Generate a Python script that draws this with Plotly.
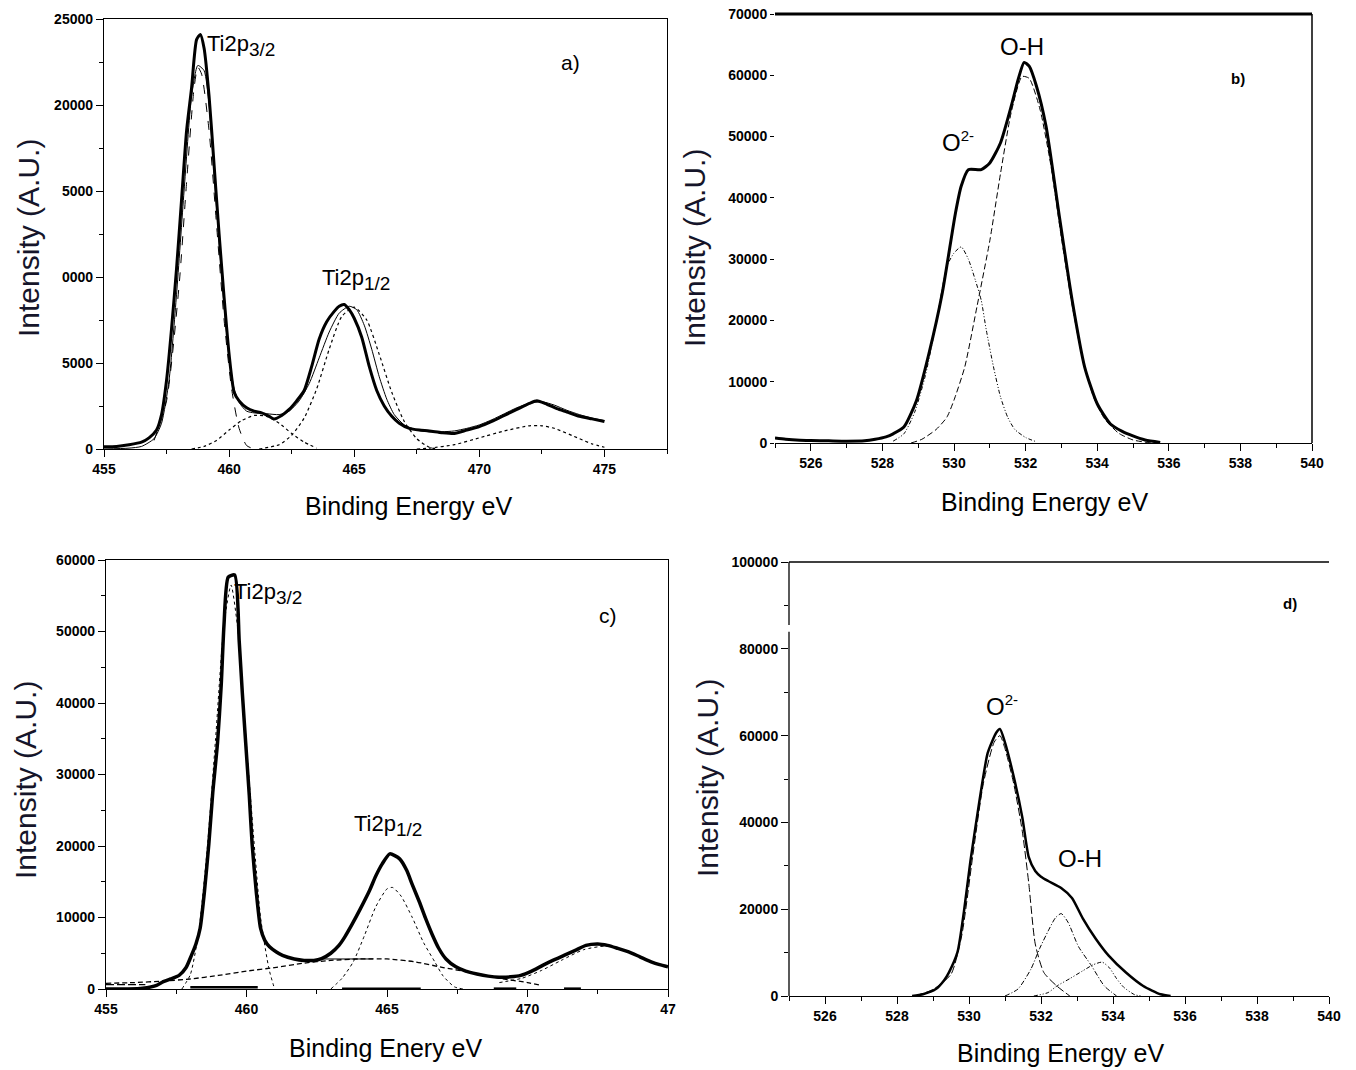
import plotly.graph_objects as go

# ---------------- Panel a) Ti2p ----------------
a_exp_x = [455.0, 455.5, 456.0, 456.5, 456.8, 457.1, 457.3, 457.5, 457.7, 457.9, 458.1, 458.3, 458.5, 458.7, 458.85,
           459.0, 459.2, 459.4, 459.6, 459.8, 460.0, 460.2, 460.4, 460.7, 461.0, 461.3, 461.6, 461.8, 462.1, 462.4,
           462.7, 463.0, 463.3, 463.6, 463.9, 464.2, 464.4, 464.6, 464.8, 465.0, 465.3, 465.6, 465.9, 466.2, 466.5,
           466.8, 467.2, 467.6, 468.0, 468.5, 469.0, 469.5, 470.0, 470.5, 471.0, 471.5, 472.0, 472.3, 472.7, 473.1,
           473.5, 474.0, 474.5, 475.0]
a_exp_y = [130, 150, 250, 400, 650, 1100, 2000, 4000, 7000, 10500, 14500, 18500, 21000, 23800, 24100,
           23300, 20500, 16500, 12500, 8800, 5500, 3300, 2800, 2400, 2200, 2100, 1900, 1750, 1950, 2300,
           2800, 3400, 4800, 6400, 7400, 8000, 8300, 8400, 8100, 7600, 6500, 4800, 3400, 2500, 1900,
           1500, 1200, 1100, 1050, 950, 900, 1100, 1300, 1600, 1950, 2300, 2650, 2800, 2600, 2350,
           2150, 1900, 1750, 1600]
a_fit_x = [455.0, 456.0, 456.5, 457.0, 457.3, 457.6, 457.9, 458.2, 458.5, 458.75, 459.0, 459.2, 459.4, 459.6, 459.8,
           460.0, 460.2, 460.4, 460.7, 461.0, 461.5, 462.0, 462.4, 462.8, 463.2, 463.6, 464.0, 464.4, 464.8, 465.1,
           465.4, 465.7, 466.0, 466.3, 466.6, 467.0, 467.5, 468.0, 468.5, 469.0, 469.5, 470.0, 470.5, 471.0, 471.5,
           472.0, 472.5, 473.0, 473.5, 474.0, 474.5, 475.0]
a_fit_y = [0, 50, 150, 600, 1500, 4000, 9000, 15000, 20500, 22300, 22000, 20000, 16000, 12000, 8300,
           5300, 3500, 2700, 2200, 2100, 2050, 2000, 2200, 2800, 3800, 5300, 6800, 7900, 8300, 8100,
           7200, 5800, 4200, 2900, 2000, 1400, 1100, 1000, 1000, 1050, 1200, 1400, 1700, 2050, 2400,
           2650, 2750, 2550, 2250, 2000, 1800, 1650]
a_p32_x = [457.0, 457.5, 458.0, 458.3, 458.6, 458.75, 458.9, 459.2, 459.5, 459.8, 460.1, 460.4, 460.7, 461.0]
a_p32_y = [500, 2800, 9500, 15500, 21000, 22200, 21800, 18500, 13000, 7500, 3500, 1200, 200, 0]
a_p2_x = [458.5, 459.0, 459.5, 460.0, 460.5, 461.0, 461.5, 462.0, 462.5, 463.0, 463.5]
a_p2_y = [0, 150, 500, 1100, 1650, 1950, 1900, 1500, 900, 400, 50]
a_p12_x = [461.2, 462.0, 462.5, 463.0, 463.5, 464.0, 464.5, 465.0, 465.5, 466.0, 466.5, 467.0, 467.5, 468.0, 468.3]
a_p12_y = [0, 250, 800, 1800, 3500, 5800, 7700, 8250, 7500, 5500, 3300, 1600, 600, 100, 0]
a_sat_x = [467.5, 468.0, 469.0, 470.0, 471.0, 472.0, 472.5, 473.0, 474.0, 474.5, 475.0]
a_sat_y = [0, 50, 250, 650, 1050, 1350, 1350, 1200, 600, 300, 100]
a_xticks = [455, 460, 465, 470, 475]
a_xlabels = ["455", "460", "465", "470", "475"]
a_yticks = [0, 5000, 10000, 15000, 20000, 25000]
a_ylabels = ["0", "5000", "0000", "5000", "20000", "25000"]

# ---------------- Panel b) O1s ----------------
b_exp_x = [525.0, 525.3, 525.7, 526.0, 526.5, 527.0, 527.5, 527.8, 528.1, 528.3, 528.6, 528.95, 529.3, 529.67,
           530.04, 530.2, 530.4, 530.76, 531.0, 531.3, 531.6, 531.8, 531.96, 532.1, 532.3, 532.57, 532.93, 533.3,
           533.65, 534.0, 534.37, 534.7, 534.98, 535.34, 535.76]
b_exp_y = [800, 600, 450, 400, 350, 300, 350, 600, 1000, 1500, 2600, 6900, 14600, 24400,
           37500, 41900, 44600, 44600, 45700, 49000, 55000, 59500, 62100, 61500, 58300, 51700, 37500, 23300,
           12400, 6400, 3100, 1900, 1200, 500, 100]
b_o2_x = [528.3, 528.6, 528.9, 529.2, 529.5, 529.8, 530.0, 530.2, 530.4, 530.6, 530.76, 530.9, 531.1, 531.3,
          531.5, 531.7, 532.0, 532.3]
b_o2_y = [300, 1500, 5000, 11000, 19500, 28800, 31000, 32000, 30000, 26500, 23300, 18500, 12500, 7500,
          4200, 2200, 900, 200]
b_oh_x = [528.8, 529.1, 529.5, 529.8, 530.0, 530.3, 530.65, 531.0, 531.3, 531.6, 531.9, 532.1, 532.4, 532.7,
          533.0, 533.3, 533.6, 533.9, 534.2, 534.6, 535.0, 535.5]
b_oh_y = [0, 600, 2200, 4200, 7000, 12400, 22500, 33000, 44000, 54000, 59800, 59500, 54500, 45500,
          33500, 22500, 13500, 7500, 4000, 1600, 500, 0]
b_xticks = [526, 528, 530, 532, 534, 536, 538, 540]
b_yticks = [0, 10000, 20000, 30000, 40000, 50000, 60000, 70000]

# ---------------- Panel c) Ti2p ----------------
c_exp_x = [455.0, 455.8, 456.3, 456.8, 457.0, 457.3, 457.6, 457.85, 458.04, 458.2, 458.35, 458.5, 458.66, 458.8,
           458.97, 459.1, 459.2, 459.35, 459.58, 459.74, 459.85, 459.97, 460.1, 460.2, 460.35, 460.5, 460.65,
           460.82, 461.05, 461.28, 461.7, 462.05, 462.4, 462.67, 463.0, 463.29, 463.5, 463.75, 464.05, 464.37,
           464.6, 464.83, 465.1, 465.45, 465.7, 465.9, 466.15, 466.37, 466.6, 466.84, 467.1, 467.45, 467.8,
           468.2, 468.6, 468.99, 469.4, 469.76, 470.15, 470.54, 470.9, 471.3, 471.7, 472.08, 472.5, 472.85,
           473.2, 473.6, 474.0, 474.4, 474.7, 475.0]
c_exp_y = [0, 0, 100, 500, 950, 1400, 1900, 3000, 4700, 6300, 8500, 13500, 20300, 27500,
           34500, 42500, 51000, 57600, 57900, 48700, 41500, 34500, 27000, 20300, 13500, 8500, 6800,
           5900, 5200, 4700, 4200, 4000, 4000, 4250, 5000, 6100, 7300, 9000, 11200, 13700,
           15800, 17500, 18900, 18200, 16600, 14600, 12200, 9900, 7700, 5700, 4200, 3100, 2500,
           2100, 1800, 1650, 1700, 1900, 2500, 3300, 4000, 4700, 5400, 6100, 6300, 6100,
           5700, 5200, 4500, 3800, 3400, 3100]
c_p32_x = [457.7, 458.0, 458.3, 458.6, 458.9, 459.2, 459.45, 459.7, 460.0, 460.3, 460.5, 460.8, 461.0]
c_p32_y = [0, 2000, 8000, 19500, 35000, 51000, 56500, 50000, 34000, 19000, 10000, 2800, 0]
c_p12_x = [463.0, 463.4, 463.8, 464.2, 464.6, 465.0, 465.2, 465.5, 465.9, 466.3, 466.7, 467.0, 467.4, 467.7]
c_p12_y = [0, 1500, 3800, 7500, 11500, 14000, 14200, 13000, 10000, 6500, 3800, 1800, 300, 0]
c_bg_x = [455.0, 456.0, 457.0, 458.0, 459.0, 460.0, 461.0, 462.0, 463.0, 464.0, 465.0, 466.0, 467.0, 468.0,
          469.0, 470.0, 470.5]
c_bg_y = [800, 900, 1100, 1400, 1900, 2500, 3000, 3600, 4000, 4200, 4200, 3800, 3000, 2300,
          1500, 900, 500]
c_sat_x = [469.0, 469.8, 470.5, 471.2, 472.0, 472.8, 473.5, 474.2, 475.0]
c_sat_y = [900, 1500, 2600, 4000, 5500, 6000, 5300, 4200, 3000]
c_seg_x = [462.7, 464.5]
c_seg_y = [4200, 4200]
c_base_x = [458.0, 460.4, None, 463.4, 466.2, None, 468.8, 469.6, None, 471.3, 471.9]
c_base_y = [250, 250, None, 50, 50, None, 50, 50, None, 50, 50]
c_ldash_x = [455.0, 456.4]
c_ldash_y = [600, 600]
c_xticks = [455, 460, 465, 470, 475]
c_xlabels = ["455", "460", "465", "470", "47"]
c_yticks = [0, 10000, 20000, 30000, 40000, 50000, 60000]

# ---------------- Panel d) O1s ----------------
d_exp_x = [528.42, 528.72, 529.08, 529.3, 529.44, 529.68, 529.86, 530.04, 530.28, 530.52, 530.76, 530.86,
           531.0, 531.24, 531.48, 531.66, 531.84, 532.0, 532.2, 532.56, 532.86, 533.16, 533.52, 533.88,
           534.36, 534.84, 535.32, 535.6]
d_exp_y = [0, 400, 1600, 3500, 5400, 10100, 19500, 31100, 44400, 56000, 60700, 61500,
           58400, 50600, 41200, 32000, 28800, 27500, 26500, 24900, 22600, 17900, 13200, 9300,
           5400, 2300, 400, 0]
d_o2_x = [528.5, 529.0, 529.5, 529.8, 530.1, 530.4, 530.7, 530.86, 531.0, 531.24, 531.48, 531.66, 531.84,
          532.08, 532.44, 532.8]
d_o2_y = [0, 1500, 5000, 14000, 32000, 49000, 58500, 60000, 57000, 49000, 38000, 26000, 12000,
          5400, 2300, 0]
d_oh_x = [531.0, 531.36, 531.72, 531.96, 532.2, 532.4, 532.56, 532.75, 533.04, 533.4, 533.76, 534.1]
d_oh_y = [0, 1600, 6200, 10900, 15000, 18000, 19000, 17000, 11400, 7000, 2300, 0]
d_p3_x = [531.8, 532.2, 532.44, 532.8, 533.16, 533.45, 533.7, 533.9, 534.1, 534.3, 534.6, 534.8]
d_p3_y = [0, 800, 2300, 4000, 5800, 7200, 7800, 6500, 4000, 2000, 300, 0]
d_xticks = [526, 528, 530, 532, 534, 536, 538, 540]
d_yticks = [0, 20000, 40000, 60000, 80000, 100000]

# ---------------- Figure ----------------
W, H = 1356, 1070
OFF = 8  # page body margin of the html page
FONT = "Liberation Sans"
fig = go.Figure()


def line(x, y, ax, width=1.0, dash="solid", smooth=0.6, color="black"):
    fig.add_trace(go.Scatter(x=x, y=y, xaxis="x" + ax, yaxis="y" + ax, mode="lines",
                             line=dict(color=color, width=width, dash=dash, shape="spline", smoothing=smooth),
                             showlegend=False, hoverinfo="skip", connectgaps=False))


# a
line(a_p32_x, a_p32_y, "", 1.0, "dash")
line(a_p2_x, a_p2_y, "", 1.2, "dot")
line(a_p12_x, a_p12_y, "", 1.2, "dot")
line(a_sat_x, a_sat_y, "", 1.2, "dot")
line(a_fit_x, a_fit_y, "", 1.0)
line(a_exp_x, a_exp_y, "", 3.0)
# b
line(b_o2_x, b_o2_y, "2", 1.0, "4px,2px,1px,2px,1px,2px")
line(b_oh_x, b_oh_y, "2", 1.0, "6px,3px")
line(b_exp_x, b_exp_y, "2", 3.0)
# c
line(c_bg_x, c_bg_y, "3", 1.3, "5px,3px")
line(c_ldash_x, c_ldash_y, "3", 1.3, "8px,3px")
line(c_p32_x, c_p32_y, "3", 1.0, "dot")
line(c_p12_x, c_p12_y, "3", 1.0, "dot")
line(c_sat_x, c_sat_y, "3", 1.0, "dot")
line(c_seg_x, c_seg_y, "3", 1.0)
line(c_base_x, c_base_y, "3", 2.5)
line(c_exp_x, c_exp_y, "3", 3.5)
# d
line(d_o2_x, d_o2_y, "4", 1.0, "8px,3px")
line(d_oh_x, d_oh_y, "4", 1.0, "5px,2px,1px,2px")
line(d_p3_x, d_p3_y, "4", 1.0, "4px,2px,1px,2px,1px,2px")
line(d_exp_x, d_exp_y, "4", 2.5)


def px(x):
    return (x - OFF) / W


def py(y):
    return 1 - (y - OFF) / H


tickfont = dict(family=FONT, size=14, color="black", weight="bold")
base_ax = dict(showgrid=False, zeroline=False, ticks="outside", ticklen=7, tickwidth=1.2, tickcolor="black",
               linecolor="black", linewidth=1.3, tickfont=tickfont, layer="above traces", automargin=False,
               ticklabeloverflow="allow")
mt = dict(ticks="outside", ticklen=4, tickcolor="black", tickmode="linear")

fig.update_layout(
    template="none",
    width=W, height=H, margin=dict(l=0, r=0, t=0, b=0, pad=0, autoexpand=False),
    paper_bgcolor="white", plot_bgcolor="white", showlegend=False,
    # panel a
    xaxis=dict(base_ax, domain=[px(104), px(667)], anchor="y", range=[455, 477.5], showline=True, mirror=True,
               tickmode="array", tickvals=a_xticks, ticktext=a_xlabels, minor=dict(mt, tick0=455, dtick=2.5)),
    yaxis=dict(base_ax, domain=[py(449), py(19)], anchor="x", range=[0, 25000], showline=True, mirror=True,
               tickmode="array", tickvals=a_yticks, ticktext=a_ylabels, minor=dict(mt, tick0=0, dtick=2500)),
    # panel b
    xaxis2=dict(base_ax, domain=[px(775), px(1312)], anchor="y2", range=[525, 540], showline=True,
                tickmode="array", tickvals=b_xticks, ticktext=[str(v) for v in b_xticks],
                minor=dict(mt, tick0=525, dtick=1)),
    yaxis2=dict(base_ax, domain=[py(443), py(14)], anchor="x2", range=[0, 70000], showline=False,
                tickmode="array", tickvals=b_yticks, ticktext=[str(v) for v in b_yticks], ticklen=4),
    # panel c
    xaxis3=dict(base_ax, domain=[px(106), px(668)], anchor="y3", range=[455, 475], showline=True, mirror=True,
                tickmode="array", tickvals=c_xticks, ticktext=c_xlabels, minor=dict(mt, tick0=455, dtick=2.5)),
    yaxis3=dict(base_ax, domain=[py(989), py(560)], anchor="x3", range=[0, 60000], showline=True, mirror=True,
                tickmode="array", tickvals=c_yticks, ticktext=[str(v) for v in c_yticks],
                minor=dict(mt, tick0=0, dtick=5000)),
    # panel d
    xaxis4=dict(base_ax, domain=[px(789), px(1329)], anchor="y4", range=[525, 540], showline=True,
                tickmode="array", tickvals=d_xticks, ticktext=[str(v) for v in d_xticks],
                minor=dict(mt, tick0=525, dtick=1)),
    yaxis4=dict(base_ax, domain=[py(996), py(562)], anchor="x4", range=[0, 100000], showline=False,
                tickmode="array", tickvals=d_yticks, ticktext=[str(v) for v in d_yticks],
                minor=dict(mt, tick0=0, dtick=10000)),
)

# frame pieces for panels b and d
shapes = [
    dict(type="line", xref="x2 domain", yref="y2 domain", x0=0, x1=1, y0=1, y1=1, line=dict(color="black", width=3)),
    dict(type="line", xref="x2 domain", yref="y2 domain", x0=1, x1=1, y0=0, y1=1, line=dict(color="black", width=1.5)),
    dict(type="line", xref="x4 domain", yref="y4 domain", x0=0, x1=1, y0=1, y1=1, line=dict(color="black", width=1.5)),
    dict(type="line", xref="x4 domain", yref="y4", x0=0, x1=0, y0=0, y1=83900, line=dict(color="black", width=1.3)),
    dict(type="line", xref="x4 domain", yref="y4", x0=0, x1=0, y0=85500, y1=100000, line=dict(color="black", width=1.3)),
]
fig.update_layout(shapes=shapes)

ann = []


def text(t, x, y, size=21, xanchor="center", angle=0, bold=False, color="black"):
    ann.append(dict(text=t, x=px(x), y=py(y), xref="paper", yref="paper", showarrow=False, xanchor=xanchor,
                    yanchor="middle", textangle=angle,
                    font=dict(family=FONT, size=size, color=color, weight="bold" if bold else "normal")))


ycol = "#15152a"
SUB32 = "Ti2p<sub><span style='font-size:19px'>3/2</span></sub>"
SUB12 = "Ti2p<sub><span style='font-size:19px'>1/2</span></sub>"
SUP2 = "O<sup><span style='font-size:15px'>2-</span></sup>"
# axis titles
text("Binding Energy eV", 408, 506, 25)
text("Intensity (A.U.)", 28, 238, 30, angle=-90, color=ycol)
text("Binding Energy eV", 1044, 502, 25)
text("Intensity (A.U.)", 694, 248, 30, angle=-90, color=ycol)
text("Binding Enery eV", 386, 1048, 25)
text("Intensity (A.U.)", 25, 780, 30, angle=-90, color=ycol)
text("Binding Energy eV", 1060, 1053, 25)
text("Intensity (A.U.)", 707, 778, 30, angle=-90, color=ycol)
# peak labels
text(SUB32, 205, 46, 22, xanchor="left")
text(SUB12, 320, 280, 22, xanchor="left")
text("a)", 570, 63, 21)
text("O-H", 1022, 47, 24)
text(SUP2, 958, 142, 24)
text("b)", 1238, 78, 15, bold=True)
text(SUB32, 232, 593, 22, xanchor="left")
text(SUB12, 352, 825, 22, xanchor="left")
text("c)", 608, 615, 21)
text(SUP2, 1002, 705, 24)
text("O-H", 1080, 858, 24)
text("d)", 1290, 603, 15, bold=True)
fig.update_layout(annotations=ann)

fig.write_html("out.html")
